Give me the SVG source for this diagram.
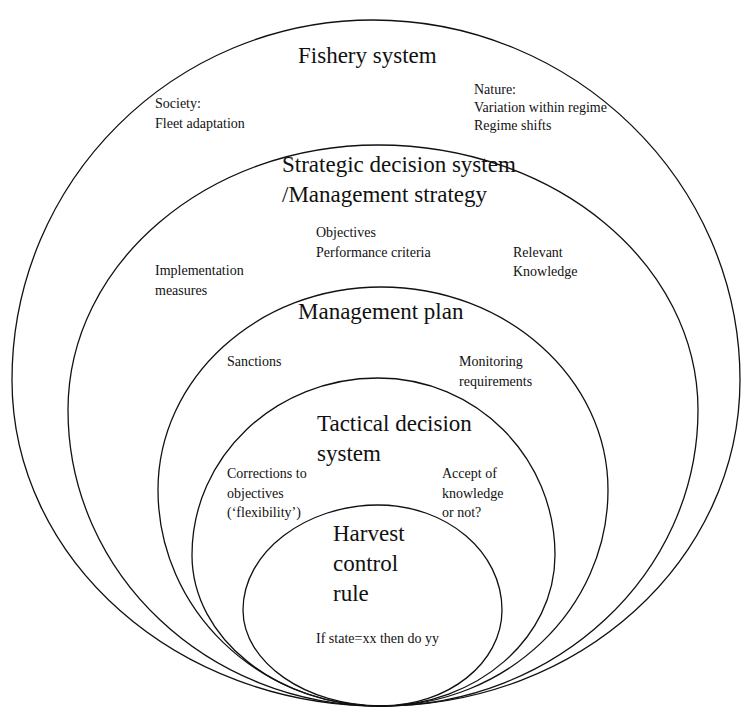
<svg xmlns="http://www.w3.org/2000/svg" width="741" height="710" viewBox="0 0 741 710">
  <style>
    .ring { fill: none; stroke: #111; stroke-width: 1.3; }
    text { font-family: "Liberation Serif", "Times New Roman", Times, serif; fill: #111; }
    .title { font-size: 23px; }
    .note { font-size: 14px; }
  </style>
  <rect width="741" height="710" fill="#fff"/>

  <!-- Nested egg-shaped systems, all touching at the bottom point -->
  <g id="fishery-system">
    <path class="ring" d="M373,20 C573,20 740,181 740,380 C740,560 580,706 381,706 C177,706 12,560 12,380 C12,181 174,20 373,20 Z"/>
    <text class="title" x="298" y="63">Fishery system</text>
    <text class="note" x="155" y="108">Society:</text>
    <text class="note" x="155" y="128">Fleet adaptation</text>
    <text class="note" x="474" y="94">Nature:</text>
    <text class="note" x="474" y="112">Variation within regime</text>
    <text class="note" x="474" y="130">Regime shifts</text>
  </g>

  <g id="strategic-decision-system">
    <path class="ring" d="M378,145 C555,145 698,264 698,410 C698,574 556,706 381,706 C208,706 68,574 68,410 C68,264 207,145 378,145 Z"/>
    <text class="title" x="282" y="172">Strategic decision system</text>
    <text class="title" x="282" y="202">/Management strategy</text>
    <text class="note" x="316" y="237">Objectives</text>
    <text class="note" x="316" y="257">Performance criteria</text>
    <text class="note" x="513" y="257">Relevant</text>
    <text class="note" x="513" y="276">Knowledge</text>
    <text class="note" x="155" y="275">Implementation</text>
    <text class="note" x="155" y="295">measures</text>
  </g>

  <g id="management-plan">
    <path class="ring" d="M381,287 C506,287 608,378 608,490 C608,609 506,706 381,706 C258,706 158,609 158,490 C158,378 258,287 381,287 Z"/>
    <text class="title" x="298" y="319">Management plan</text>
    <text class="note" x="227" y="366">Sanctions</text>
    <text class="note" x="459" y="366">Monitoring</text>
    <text class="note" x="459" y="386">requirements</text>
  </g>

  <g id="tactical-decision-system">
    <path class="ring" d="M378,378 C476,378 555,457 555,555 C555,638 477,706 381,706 C277,706 192,638 192,555 C192,457 275,378 378,378 Z"/>
    <text class="title" x="317" y="431">Tactical decision</text>
    <text class="title" x="317" y="461">system</text>
    <text class="note" x="227" y="478">Corrections to</text>
    <text class="note" x="227" y="498">objectives</text>
    <text class="note" x="227" y="517">(‘flexibility’)</text>
    <text class="note" x="442" y="478">Accept of</text>
    <text class="note" x="442" y="498">knowledge</text>
    <text class="note" x="442" y="517">or not?</text>
  </g>

  <g id="harvest-control-rule">
    <path class="ring" d="M378,505 C447,505 502,552 502,610 C502,663 448,706 381,706 C307,706 243,663 243,610 C243,552 306,505 378,505 Z"/>
    <text class="title" x="333" y="541">Harvest</text>
    <text class="title" x="333" y="571">control</text>
    <text class="title" x="333" y="601">rule</text>
    <text class="note" x="316" y="643">If state=xx then do yy</text>
  </g>

  <g id="connectors"/>
</svg>
